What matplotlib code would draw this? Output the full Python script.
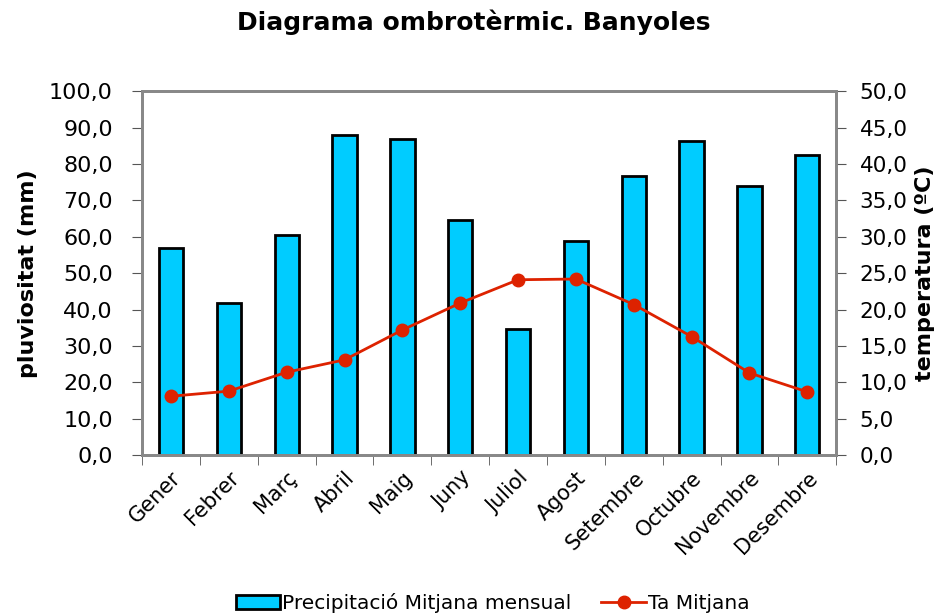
import matplotlib.pyplot as plt
from matplotlib.ticker import FuncFormatter, FixedLocator
import numpy as np

months = ['Gener', 'Febrer', 'Març', 'Abril', 'Maig', 'Juny', 'Juliol',
          'Agost', 'Setembre', 'Octubre', 'Novembre', 'Desembre']
precip = [56.8, 41.9, 60.6, 87.9, 86.8, 64.7, 34.7, 58.9, 76.8, 86.4, 73.9, 82.5]
temp = [8.1, 8.8, 11.4, 13.1, 17.2, 20.9, 24.1, 24.2, 20.7, 16.3, 11.3, 8.7]

fmt = FuncFormatter(lambda v, p: f'{v:.1f}'.replace('.', ','))

fig = plt.figure(figsize=(9.47, 6.16), dpi=100)
ax = fig.add_axes([0.150, 0.261, 0.733, 0.591])
x = np.arange(len(months))

ax.bar(x, precip, width=0.42, color='#00CCFF', edgecolor='black', linewidth=2,
       label='Precipitació Mitjana mensual', zorder=2)
ax.set_xlim(-0.5, len(months) - 0.5)
ax.set_ylim(0, 100)
ax.set_yticks(np.arange(0, 101, 10))
ax.yaxis.set_major_formatter(fmt)
ax.set_ylabel('pluviositat (mm)', fontsize=16, fontweight='bold', labelpad=8)

ax.set_xticks(x)
ax.set_xticklabels(months, rotation=45, ha='right', rotation_mode='anchor', fontsize=15)
ax.tick_params(axis='x', which='major', length=0, pad=9)
ax.xaxis.set_minor_locator(FixedLocator(np.arange(-0.5, len(months), 1)))
ax.tick_params(axis='x', which='minor', length=7, color='#555555', direction='out')
ax.tick_params(axis='y', labelsize=16, length=7, color='#555555', pad=14)

ax2 = ax.twinx()
ax2.plot(x, temp, color='#DD2200', marker='o', markersize=9, linewidth=2,
         label='Ta Mitjana', zorder=3)
ax2.set_ylim(0, 50)
ax2.set_yticks(np.arange(0, 51, 5))
ax2.yaxis.set_major_formatter(fmt)
ax2.set_ylabel('temperatura (ºC)', fontsize=16, fontweight='bold', labelpad=5)
ax2.tick_params(axis='y', labelsize=15.5, length=7, color='#555555', pad=10)

for a in (ax, ax2):
    for s in a.spines.values():
        s.set_color('#888888')
        s.set_linewidth(2)

fig.suptitle('Diagrama ombrotèrmic. Banyoles', fontsize=18, fontweight='bold', y=0.985)

h1, l1 = ax.get_legend_handles_labels()
h2, l2 = ax2.get_legend_handles_labels()
fig.legend(h1 + h2, l1 + l2, loc='lower center', ncol=2, frameon=False,
           fontsize=14.5, bbox_to_anchor=(0.52, -0.025), handlelength=2.2,
           handletextpad=0.1, columnspacing=1.5)

fig.savefig('out.png', dpi=100)
